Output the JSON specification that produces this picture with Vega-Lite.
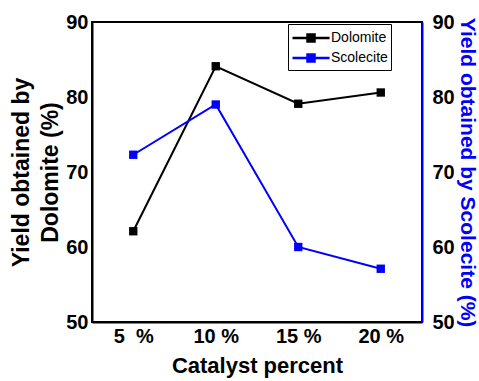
{
  "$schema": "https://vega.github.io/schema/vega-lite/v6.json",
  "width": 330,
  "height": 300,
  "autosize": {"type": "none"},
  "padding": {"left": 92, "top": 22, "right": 57, "bottom": 59},
  "background": "white",
  "config": {
    "font": "Liberation Sans",
    "view": {"stroke": "black", "strokeWidth": 2},
    "axis": {
      "ticks": false,
      "grid": false,
      "domainColor": "black",
      "domainWidth": 2,
      "labelFont": "Liberation Sans",
      "labelFontWeight": "bold",
      "labelFontSize": 20,
      "labelColor": "black",
      "titleFont": "Liberation Sans",
      "titleFontSize": 22,
      "titleFontWeight": "bold",
      "titleColor": "black"
    },
    "legend": {
      "labelFont": "Liberation Sans",
      "labelFontSize": 14,
      "labelColor": "black"
    }
  },
  "data": {
    "values": [
      {"cat": "5\u00a0\u00a0%", "series": "Dolomite", "yield": 62.1},
      {"cat": "10 %", "series": "Dolomite", "yield": 84.1},
      {"cat": "15 %", "series": "Dolomite", "yield": 79.1},
      {"cat": "20 %", "series": "Dolomite", "yield": 80.6},
      {"cat": "5\u00a0\u00a0%", "series": "Scolecite", "yield": 72.3},
      {"cat": "10 %", "series": "Scolecite", "yield": 79.0},
      {"cat": "15 %", "series": "Scolecite", "yield": 60.0},
      {"cat": "20 %", "series": "Scolecite", "yield": 57.1}
    ]
  },
  "encoding": {
    "x": {
      "field": "cat",
      "type": "ordinal",
      "sort": null,
      "scale": {"type": "point", "padding": 0.5},
      "axis": {"title": "Catalyst percent", "labelAngle": 0, "labelPadding": 4, "titlePadding": 9}
    },
    "color": {
      "field": "series",
      "type": "nominal",
      "scale": {"domain": ["Dolomite", "Scolecite"], "range": ["#000000", "#0000ff"]},
      "legend": {
        "title": null,
        "orient": "none",
        "legendX": 196,
        "legendY": 2,
        "fillColor": "white",
        "strokeColor": "black",
        "padding": 3,
        "symbolType": "M-1,0H2.9M0.58,-0.37H1.32V0.37H0.58Z",
        "symbolSize": 361,
        "symbolStrokeWidth": 2.5,
        "symbolFillColor": "black",
        "rowPadding": 0,
        "labelOffset": 18
      }
    }
  },
  "layer": [
    {
      "transform": [{"filter": "datum.series === 'Dolomite'"}],
      "mark": {"type": "line", "strokeWidth": 2, "point": {"shape": "square", "size": 70, "filled": true, "color": "black"}},
      "encoding": {
        "y": {
          "field": "yield",
          "type": "quantitative",
          "scale": {"domain": [50, 90]},
          "axis": {"title": ["Yield obtained by", "Dolomite (%)"], "titleFontSize": 23, "values": [50, 60, 70, 80, 90], "labelPadding": 4, "titlePadding": 3, "titleLineHeight": 29, "orient": "left"}
        }
      }
    },
    {
      "transform": [{"filter": "datum.series === 'Scolecite'"}],
      "mark": {"type": "line", "strokeWidth": 2, "point": {"shape": "square", "size": 70, "filled": true, "color": "#0000ff"}},
      "encoding": {
        "y": {
          "field": "yield",
          "type": "quantitative",
          "scale": {"domain": [50, 90]},
          "axis": {"title": "Yield obtained by Scolecite (%)", "titleFontSize": 21, "values": [50, 60, 70, 80, 90], "orient": "right", "labelPadding": 10, "titlePadding": 2, "domainColor": "#0000ff", "titleColor": "#0000ff"}
        }
      }
    }
  ],
  "resolve": {"scale": {"y": "independent"}}
}
